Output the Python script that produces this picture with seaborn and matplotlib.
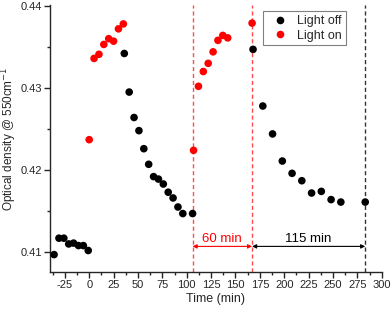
import matplotlib
matplotlib.use('Agg')
import matplotlib.pyplot as plt
import seaborn as sns
import pandas as pd
from matplotlib.ticker import MultipleLocator

# Data
off_time = [-36, -31, -26, -21, -16, -11, -6, -1, 36, 41, 46, 51, 56, 61, 66, 71, 76, 81, 86, 91, 96, 106,
            168, 178, 188, 198, 208, 218, 228, 238, 248, 258, 283]
off_od = [0.4097, 0.4117, 0.4117, 0.4110, 0.4111, 0.4108, 0.4108, 0.4102,
          0.4342, 0.4295, 0.4264, 0.4248, 0.4226, 0.4207, 0.4192, 0.4189, 0.4183, 0.4173, 0.4166, 0.4155,
          0.4147, 0.4147,
          0.4347, 0.4278, 0.4244, 0.4211, 0.4196, 0.4187, 0.4172, 0.4174, 0.4164, 0.4161, 0.4161]
on_time = [0, 5, 10, 15, 20, 25, 30, 35, 107, 112, 117, 122, 127, 132, 137, 142, 167]
on_od = [0.4237, 0.4336, 0.4341, 0.4353, 0.4360, 0.4357, 0.4372, 0.4378,
         0.4224, 0.4302, 0.4320, 0.4330, 0.4344, 0.4358, 0.4364, 0.4361, 0.4379]
red_lines = [106, 167]
black_line = 283

df = pd.DataFrame({
    'time': off_time + on_time,
    'od': off_od + on_od,
    'state': ['Light off'] * len(off_time) + ['Light on'] * len(on_time),
})

sns.set_style('ticks')
plt.rcParams['font.family'] = ['Liberation Sans', 'DejaVu Sans']
plt.rcParams['axes.unicode_minus'] = False

fig = plt.figure(figsize=(3.92, 3.15), dpi=100)
ax = fig.add_axes([0.128, 0.137, 0.846, 0.847])

for xv in red_lines:
    ax.axvline(xv, color='#ff4d4d', ls='--', lw=1, dashes=(3, 2))
ax.axvline(black_line, color='#333333', ls='--', lw=1, dashes=(3, 2))

sns.scatterplot(data=df, x='time', y='od', hue='state', hue_order=['Light off', 'Light on'],
                palette={'Light off': 'black', 'Light on': 'red'}, s=30, edgecolor='none', ax=ax, zorder=3)

# arrows
ya = 0.4107
ax.annotate('', xy=(red_lines[0], ya), xytext=(red_lines[1], ya),
            arrowprops=dict(arrowstyle='<|-|>', color='red', lw=0.8, mutation_scale=6, shrinkA=0, shrinkB=0))
ax.annotate('', xy=(red_lines[1], ya), xytext=(black_line, ya),
            arrowprops=dict(arrowstyle='<|-|>', color='black', lw=0.8, mutation_scale=6, shrinkA=0, shrinkB=0))
ax.text((red_lines[0] + red_lines[1]) / 2, ya + 0.0002, '60 min', color='red', ha='center', va='bottom', fontsize=9.5)
ax.text((red_lines[1] + black_line) / 2, ya + 0.0002, '115 min', color='black', ha='center', va='bottom', fontsize=9.5)

ax.set_xlim(-40, 300)
ax.set_ylim(0.4076, 0.4401)
ax.set_xticks([-25, 0, 25, 50, 75, 100, 125, 150, 175, 200, 225, 250, 275, 300])
ax.set_yticks([0.41, 0.42, 0.43, 0.44])
ax.set_yticklabels(['0.41', '0.42', '0.43', '0.44'])
ax.xaxis.set_minor_locator(MultipleLocator(12.5))
ax.yaxis.set_minor_locator(MultipleLocator(0.005))
ax.tick_params(which='major', direction='out', length=4, width=1, labelsize=8, pad=2)
ax.tick_params(which='minor', direction='out', length=2.5, width=1)
for s in ['left', 'bottom']:
    ax.spines[s].set_linewidth(1)
sns.despine(ax=ax)

ax.set_xlabel('Time (min)', fontsize=9, labelpad=2)
ax.set_ylabel('Optical density @ 550cm$^{-1}$', fontsize=8.5, labelpad=1)

leg = ax.legend(loc='upper right', fontsize=9, frameon=True, fancybox=False, framealpha=1,
                edgecolor='gray', borderpad=0.3, handletextpad=0.4, labelspacing=0.2,
                bbox_to_anchor=(0.91, 1.0), markerscale=1.0)
leg.get_frame().set_linewidth(0.8)

fig.savefig('out.png', dpi=100)
